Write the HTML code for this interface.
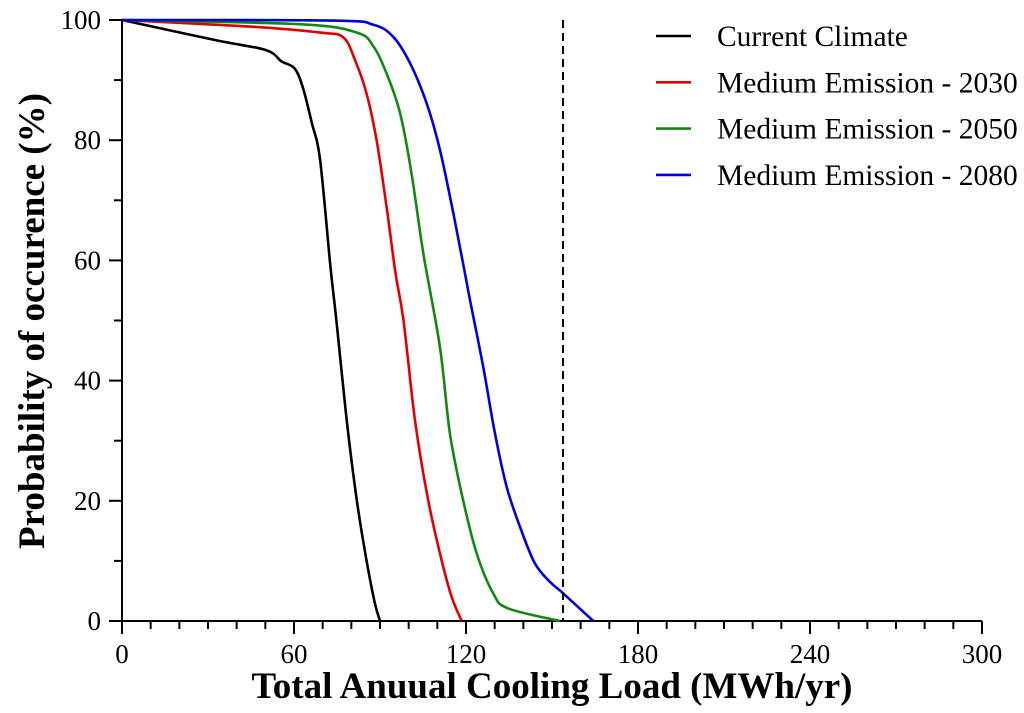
<!DOCTYPE html>
<html><head><meta charset="utf-8"><style>
html,body{margin:0;padding:0;background:#fff;}
svg{display:block;font-family:"Liberation Serif",serif;}
</style></head><body>
<svg id="chart" width="1024" height="713" viewBox="0 0 1024 713">
<g id="axes"></g>
<g id="series"></g>
<line x1="563" y1="20" x2="563" y2="621" stroke="#000" stroke-width="2" stroke-dasharray="8,5"/>
<g id="legend"></g>
<text x="552" y="698" text-anchor="middle" font-size="37" font-weight="bold">Total Anuual Cooling Load (MWh/yr)</text>
<text transform="translate(44,321) rotate(-90)" text-anchor="middle" font-size="37" font-weight="bold">Probability of occurence (%)</text>
</svg>
<script>
const xTicks=[0,60,120,180,240,300];
const yTicks=[0,20,40,60,80,100];
const seriesNames=["Current Climate","Medium Emission - 2030","Medium Emission - 2050","Medium Emission - 2080"];
const seriesColors=["#000000","#e00000","#118811","#0000dd"];
const currentX=[0,33,50.2,55.7,60.1,63,66.2,69.1,72.7,74.8,78.4,81.9,85.3,88.2,90];
const currentY=[100,96.6,95,93.1,92,88.9,82.9,76.7,59,50,33.4,20.1,10.1,3,0];
const m2030X=[0,44.6,69.1,77.2,81.3,85.3,88.8,92.3,95.4,98.2,102.2,106.8,111.5,115,118.5];
const m2030Y=[100,98.9,97.9,97.1,93.3,87.8,80,68.9,57.9,50,33.4,20.1,10.1,4,0];
const m2050X=[0,62.1,81.9,87.7,92.3,97,101,105.1,110.9,114.4,119,123.7,129.5,134.7,152.8];
const m2050Y=[100,99.3,97.9,95.6,91.1,84.5,74.5,61.2,45.6,31.2,20.1,11.3,4.6,2.1,0];
const m2080X=[0,73.6,87.7,94.6,100.5,106.3,110.9,115.6,119.6,121.4,126,130.1,134.2,138.8,144,149.3,153.9,164.4];
const m2080Y=[100,99.9,99.2,97.2,92.8,86.1,78.4,67.8,57.9,53.4,42.3,31.2,22.3,15.7,9.6,6.5,4.6,0];
const seriesX=[currentX,m2030X,m2050X,m2080X];
const seriesY=[currentY,m2030Y,m2050Y,m2080Y];
const NS="http://www.w3.org/2000/svg";
const X0=122,X1=982,Y0=621,Y1=20;
const sx=v=>X0+(v-0)/300*(X1-X0);
const sy=v=>Y0-(v-0)/100*(Y0-Y1);
function mk(tag,attrs,parent){const e=document.createElementNS(NS,tag);for(const k in attrs)e.setAttribute(k,attrs[k]);parent.appendChild(e);return e;}
function smooth(pts){let d='M'+pts[0][0].toFixed(1)+','+pts[0][1].toFixed(1);
for(let i=0;i<pts.length-1;i++){const p0=pts[Math.max(i-1,0)],p1=pts[i],p2=pts[i+1],p3=pts[Math.min(i+2,pts.length-1)];
const c1=[p1[0]+(p2[0]-p0[0])/6,p1[1]+(p2[1]-p0[1])/6],c2=[p2[0]-(p3[0]-p1[0])/6,p2[1]-(p3[1]-p1[1])/6];
d+='C'+c1.map(v=>v.toFixed(1)).join(',')+' '+c2.map(v=>v.toFixed(1)).join(',')+' '+p2[0].toFixed(1)+','+p2[1].toFixed(1);}
return d;}
const axes=document.getElementById('axes');
let l=mk('line',{x1:X0,y1:Y1,x2:X0,y2:Y0,stroke:'#000','stroke-width':2},axes);


l=mk('line',{x1:X0,y1:Y0,x2:X1,y2:Y0,stroke:'#000','stroke-width':2},axes);


for(let v=0;v<=300;v+=10){const major=v%60===0;const t=mk('line',{x1:sx(v),y1:Y0,x2:sx(v),y2:Y0+(major?13:8),stroke:'#000','stroke-width':2},axes);

}
xTicks.forEach(v=>{const t=mk('text',{x:sx(v),y:663,'text-anchor':'middle','font-size':27},axes);t.textContent=v;

});
for(let v=0;v<=100;v+=10){const major=v%20===0;const t=mk('line',{x1:X0-(major?13:8),y1:sy(v),x2:X0,y2:sy(v),stroke:'#000','stroke-width':2},axes);

}
yTicks.forEach(v=>{const t=mk('text',{x:101,y:sy(v)+9,'text-anchor':'end','font-size':27},axes);t.textContent=v;

});
const sg=document.getElementById('series');
seriesX.forEach((xs,i)=>{const pts=xs.map((x,j)=>[sx(x),sy(seriesY[i][j])]);
const p=mk('path',{d:smooth(pts),fill:'none',stroke:seriesColors[i],'stroke-width':2.6,'stroke-linejoin':'round'},sg);

});
const lg=document.getElementById('legend');
seriesNames.forEach((n,i)=>{const y=36+i*46.3;
const ln=mk('line',{x1:656,y1:y,x2:691,y2:y,stroke:seriesColors[i],'stroke-width':2.6},lg);


const t=mk('text',{x:717,y:y+10,'font-size':29.5},lg);t.textContent=n;

});
</script>
</body></html>
